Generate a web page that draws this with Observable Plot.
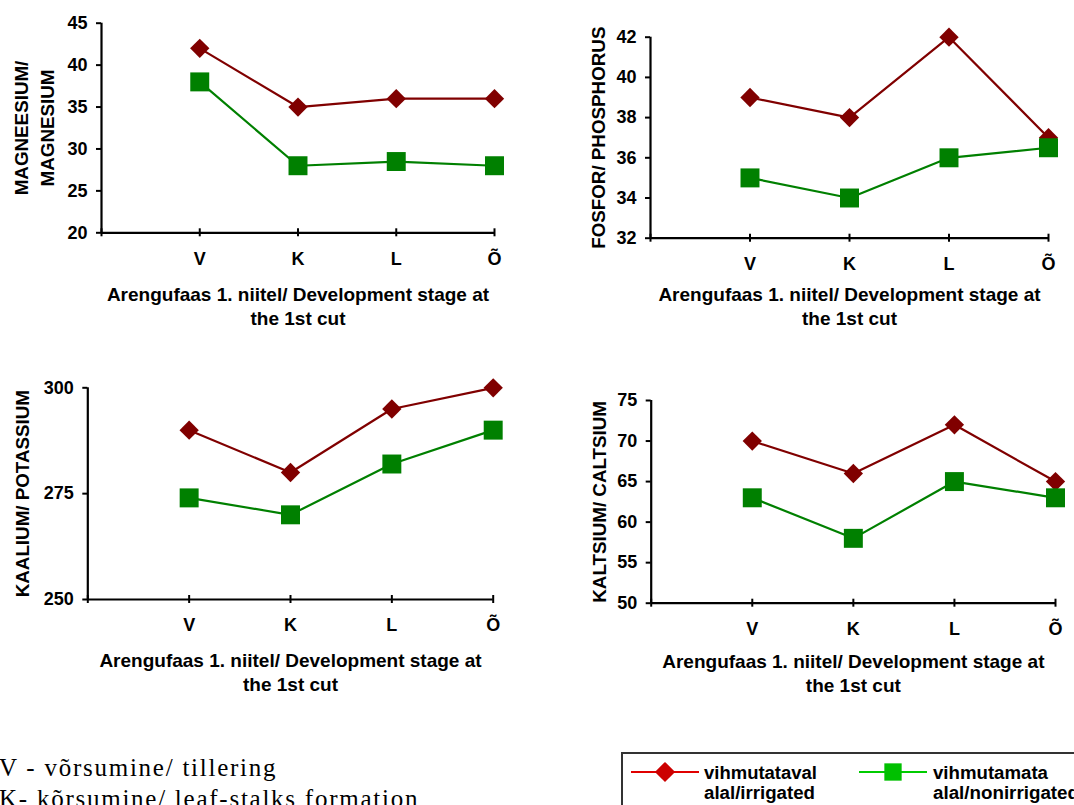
<!DOCTYPE html>
<html>
<head>
<meta charset="utf-8">
<script src="https://cdn.jsdelivr.net/npm/d3@7"></script>
<script src="https://cdn.jsdelivr.net/npm/@observablehq/plot@0.6"></script>
<style>
  html, body { margin: 0; padding: 0; background: #fff; }
  #root { position: relative; width: 1074px; height: 805px; overflow: hidden; background: #fff; }
</style>
</head>
<body>
<div id="root"></div>
<script>
// ---------- data ----------
const stages = ["V", "K", "L", "Õ"];
const stagePos = [1, 2, 3, 4];
const seriesNames = ["vihmutataval alal/irrigated", "vihmutamata alal/nonirrigated"];

const magnesiumIrrigated = [42, 35, 36, 36];
const magnesiumNonirrigated = [38, 28, 28.5, 28];
const magnesiumTicks = [20, 25, 30, 35, 40, 45];

const phosphorusIrrigated = [39, 38, 42, 37];
const phosphorusNonirrigated = [35, 34, 36, 36.5];
const phosphorusTicks = [32, 34, 36, 38, 40, 42];

const potassiumIrrigated = [290, 280, 295, 300];
const potassiumNonirrigated = [274, 270, 282, 290];
const potassiumTicks = [250, 275, 300];

const calciumIrrigated = [70, 66, 72, 65];
const calciumNonirrigated = [63, 58, 65, 63];
const calciumTicks = [50, 55, 60, 65, 70, 75];

const xTitle = "Arengufaas 1. niitel/ Development stage at\nthe 1st cut";
const yTitles = ["MAGNEESIUM/\nMAGNESIUM", "FOSFOR/ PHOSPHORUS", "KAALIUM/ POTASSIUM", "KALTSIUM/ CALTSIUM"];
const footnotes = ["V - võrsumine/ tillering", "K- kõrsumine/ leaf-stalks formation"];

// ---------- styles ----------
const seriesColors = ["#800000", "#008000"];
const legendLineColors = ["#e00000", "#00cc00"];
const legendMarkerColors = ["#cc0000", "#00c000"];
const sans = "'Liberation Sans', Arial, Helvetica, sans-serif";

const root = document.getElementById("root");

function makePanel(cfg) {
  const rows = [];
  cfg.irrigated.forEach((v, i) => rows.push({pos: stagePos[i], value: v, series: 0}));
  cfg.nonirrigated.forEach((v, i) => rows.push({pos: stagePos[i], value: v, series: 1}));
  const irr = rows.filter(d => d.series === 0);
  const non = rows.filter(d => d.series === 1);
  const xTicks = [0, ...stagePos];
  const yMin = cfg.yTicks[0];

  const chart = Plot.plot({
    width: cfg.width,
    height: cfg.height,
    marginLeft: cfg.mL,
    marginRight: cfg.mR,
    marginTop: cfg.mT,
    marginBottom: cfg.mB,
    x: {type: "linear", domain: [0, 4]},
    y: {domain: [cfg.yTicks[0], cfg.yTicks[cfg.yTicks.length - 1]]},
    style: {
      fontFamily: sans,
      fontSize: "18px",
      fontWeight: "bold",
      color: "#000",
      background: "transparent",
      overflow: "visible"
    },
    marks: [
      Plot.axisY({ticks: cfg.yTicks, tickSize: 5, tickPadding: 9, strokeWidth: 2, label: null}),
      Plot.axisX({ticks: xTicks, tickSize: 0, tickPadding: 19, label: null,
        tickFormat: d => { const i = stagePos.indexOf(d); return i >= 0 ? stages[i] : ""; }}),
      Plot.ruleX(xTicks, {x: d => d, y1: () => yMin, y2: () => yMin, insetTop: -4, insetBottom: -4, stroke: "#000", strokeWidth: 2}),
      Plot.ruleY([yMin], {stroke: "#000", strokeWidth: 2.2}),
      Plot.ruleX([0], {stroke: "#000", strokeWidth: 2.2}),
      Plot.line(irr, {x: "pos", y: "value", stroke: seriesColors[0], strokeWidth: 2.2}),
      Plot.dot(irr, {x: "pos", y: "value", symbol: "diamond2", r: 8.7, fill: seriesColors[0], stroke: "none"}),
      Plot.line(non, {x: "pos", y: "value", stroke: seriesColors[1], strokeWidth: 2.2}),
      Plot.dot(non, {x: "pos", y: "value", symbol: "square", r: 10.7, fill: seriesColors[1], stroke: "none"}),
      Plot.text([cfg.yTitle], {text: d => d, frameAnchor: "left", rotate: -90, dx: cfg.yDx,
        textAnchor: "middle", lineAnchor: "middle", lineHeight: 1.35, fontSize: 18.8, fontWeight: "bold", fill: "#000"}),
      Plot.text([xTitle], {text: d => d, frameAnchor: "bottom", dy: cfg.xDy,
        textAnchor: "middle", lineAnchor: "middle", lineHeight: 1.28, fontSize: 19, fontWeight: "bold", fill: "#000"})
    ]
  });
  chart.style.position = "absolute";
  chart.style.left = cfg.left + "px";
  chart.style.top = cfg.top + "px";
  chart.style.maxWidth = "none";
  root.append(chart);
}

makePanel({left: 0, top: 0, width: 530, height: 330, mL: 101, mR: 36, mT: 22.7, mB: 97.7,
  yTicks: magnesiumTicks, yTitle: yTitles[0], yDx: -68.5, xDy: 72.2,
  irrigated: magnesiumIrrigated, nonirrigated: magnesiumNonirrigated});

makePanel({left: 560, top: 0, width: 514, height: 330, mL: 90, mR: 26, mT: 36.7, mB: 92.3,
  yTicks: phosphorusTicks, yTitle: yTitles[1], yDx: -54, xDy: 67.3,
  irrigated: phosphorusIrrigated, nonirrigated: phosphorusNonirrigated});

makePanel({left: 0, top: 370, width: 530, height: 330, mL: 87.3, mR: 37.3, mT: 17.3, mB: 101,
  yTicks: potassiumTicks, yTitle: yTitles[2], yDx: -67.3, xDy: 71.5,
  irrigated: potassiumIrrigated, nonirrigated: potassiumNonirrigated});

makePanel({left: 560, top: 370, width: 514, height: 330, mL: 90.7, mR: 19, mT: 30, mB: 97.3,
  yTicks: calciumTicks, yTitle: yTitles[3], yDx: -53.7, xDy: 68.8,
  irrigated: calciumIrrigated, nonirrigated: calciumNonirrigated});

// ---------- footnote + legend ----------
const overlay = d3.create("svg")
  .attr("width", 1074).attr("height", 805)
  .style("position", "absolute").style("left", "0px").style("top", "0px");

overlay.append("g")
  .attr("font-family", "'Liberation Serif', 'Times New Roman', serif")
  .attr("font-size", 25)
  .attr("letter-spacing", "1.75px")
  .attr("fill", "#000")
  .selectAll("text").data(footnotes).join("text")
  .attr("x", -1).attr("y", (d, i) => 776 + i * 31)
  .text(d => d);

const legend = overlay.append("g");
legend.append("rect")
  .attr("x", 622).attr("y", 753).attr("width", 480).attr("height", 90)
  .attr("fill", "#fff").attr("stroke", "#333").attr("stroke-width", 2);

const legendX = [631, 859];
const legendTextX = [704, 933];
const legendTextW = [[113, 111], [115, 146]];
const legendSymbols = [d3.symbolDiamond2, d3.symbolSquare];
const legendSymbolSize = [260, 300];
seriesNames.forEach((name, i) => {
  const g = legend.append("g");
  g.append("line")
    .attr("x1", legendX[i]).attr("x2", legendX[i] + 68)
    .attr("y1", 772).attr("y2", 772)
    .attr("stroke", legendLineColors[i]).attr("stroke-width", 2);
  g.append("path")
    .attr("transform", `translate(${legendX[i] + 34},772)`)
    .attr("d", d3.symbol(legendSymbols[i], legendSymbolSize[i])())
    .attr("fill", legendMarkerColors[i]);
  const parts = name.split(" ");
  parts.forEach((p, j) => {
    g.append("text")
      .attr("x", legendTextX[i]).attr("y", 779 + j * 20)
      .attr("font-family", sans).attr("font-weight", "bold").attr("font-size", 18)
      .attr("textLength", legendTextW[i][j]).attr("lengthAdjust", "spacingAndGlyphs")
      .attr("fill", "#000")
      .text(p);
  });
});

root.append(overlay.node());
</script>
</body>
</html>
